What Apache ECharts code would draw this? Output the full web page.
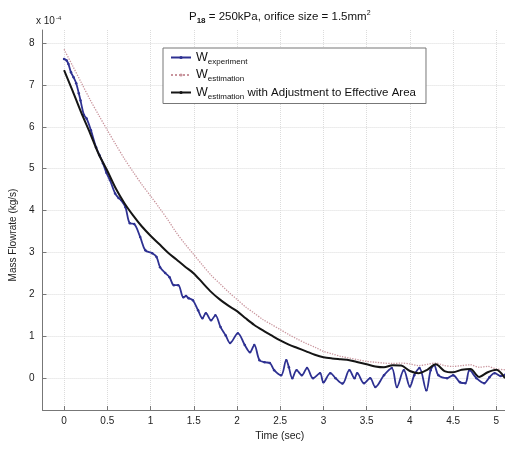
<!DOCTYPE html>
<html>
<head>
<meta charset="utf-8">
<script src="https://cdn.jsdelivr.net/npm/echarts@6/dist/echarts.min.js"></script>
<style>
  html, body { margin: 0; padding: 0; background: #fff; }
  #chart { width: 505px; height: 450px; }
</style>
</head>
<body>
<div id="chart"></div>
<script>
// Axis tick positions (time in s, flow in units of 1e-4 kg/s)
const xTicks = [0, 0.5, 1, 1.5, 2, 2.5, 3, 3.5, 4, 4.5, 5];
const yTicks = [0, 1, 2, 3, 4, 5, 6, 7, 8];

// Measured mass flowrate
const expTime = [0.00, 0.03, 0.05, 0.08, 0.11, 0.14, 0.17, 0.19, 0.23, 0.26, 0.31, 0.37, 0.41, 0.45, 0.49,
  0.53, 0.59, 0.63, 0.66, 0.71, 0.76, 0.81, 0.88, 0.94, 1.02, 1.07, 1.11, 1.17, 1.22, 1.27,
  1.32, 1.38, 1.41, 1.44, 1.49, 1.55, 1.60, 1.64, 1.70, 1.75, 1.81, 1.87, 1.92, 2.01, 2.09,
  2.15, 2.20, 2.26, 2.32, 2.38, 2.43, 2.51, 2.57, 2.60, 2.64, 2.69, 2.75, 2.81, 2.88, 2.96,
  3.00, 3.08, 3.14, 3.22, 3.30, 3.36, 3.39, 3.47, 3.54, 3.60, 3.70, 3.79, 3.85, 3.93, 4.00,
  4.05, 4.11, 4.19, 4.24, 4.28, 4.33, 4.43, 4.50, 4.58, 4.64, 4.69, 4.77, 4.86, 4.92, 4.98,
  5.05, 5.10];
const expFlow = [7.62, 7.58, 7.50, 7.30, 7.18, 7.04, 6.80, 6.63, 6.28, 6.20, 5.92, 5.51, 5.32, 5.13, 4.90,
  4.73, 4.41, 4.30, 4.25, 4.08, 3.70, 3.68, 3.37, 3.05, 2.98, 2.89, 2.65, 2.51, 2.41, 2.22,
  2.22, 1.93, 1.96, 1.91, 1.86, 1.62, 1.43, 1.55, 1.38, 1.50, 1.22, 1.02, 0.84, 1.07, 0.79,
  0.62, 0.79, 0.43, 0.38, 0.36, 0.19, 0.07, 0.43, 0.26, 0.00, 0.19, 0.07, 0.24, 0.00, 0.12,
  -0.10, 0.12, 0.00, -0.13, 0.19, 0.00, 0.12, -0.12, 0.00, -0.21, 0.07, 0.24, -0.21, 0.19, -0.20,
  0.07, 0.24, -0.29, 0.19, 0.31, 0.07, 0.00, 0.07, -0.10, -0.12, 0.19, 0.00, -0.12, 0.02, 0.12,
  0.05, 0.08];

// Sample times for the two model curves
const modelTime = [0.0, 0.1, 0.2, 0.3, 0.4, 0.5, 0.6, 0.7, 0.8, 0.9, 1.0, 1.1, 1.2, 1.3, 1.4, 1.5, 1.6,
  1.7, 1.8, 1.9, 2.0, 2.1, 2.2, 2.3, 2.4, 2.5, 2.6, 2.7, 2.8, 2.9, 3.0, 3.1, 3.2, 3.3, 3.4,
  3.5, 3.6, 3.7, 3.8, 3.9, 4.0, 4.1, 4.2, 4.3, 4.4, 4.5, 4.6, 4.7, 4.8, 4.9, 5.0, 5.1];

// Estimated flowrate
const estFlow = [7.85, 7.45, 7.05, 6.65, 6.28, 5.92, 5.57, 5.23, 4.92, 4.62, 4.35, 4.07, 3.78, 3.47, 3.20, 2.95, 2.70,
  2.46, 2.26, 2.06, 1.88, 1.70, 1.55, 1.40, 1.28, 1.16, 1.04, 0.93, 0.83, 0.74, 0.64, 0.58, 0.52, 0.48, 0.44,
  0.40, 0.38, 0.36, 0.35, 0.36, 0.34, 0.30, 0.33, 0.36, 0.30, 0.28, 0.30, 0.32, 0.26, 0.28, 0.22, 0.20];

// Estimated flowrate with adjustment to effective area
const adjFlow = [7.35, 6.85, 6.33, 5.85, 5.35, 4.95, 4.52, 4.17, 3.88, 3.62, 3.40, 3.20, 3.00, 2.83, 2.66, 2.50, 2.28,
  2.06, 1.88, 1.73, 1.60, 1.43, 1.27, 1.14, 1.02, 0.90, 0.80, 0.72, 0.64, 0.56, 0.50, 0.47, 0.45, 0.43, 0.38,
  0.33, 0.28, 0.26, 0.31, 0.30, 0.17, 0.12, 0.20, 0.33, 0.17, 0.14, 0.20, 0.22, 0.03, 0.14, 0.20, 0.00];

const FONT = '"Liberation Sans", Arial, sans-serif';
const pairs = (t, v) => t.map((x, i) => [x, v[i]]);

const legendText = {
  'W experiment': '{w|W}{s|experiment}',
  'W estimation': '{w|W}{s|estimation}',
  'W estimation adjusted': '{w|W}{s|estimation}{t| with Adjustment to Effective Area}'
};

const chart = echarts.init(document.getElementById('chart'), null, { renderer: 'canvas' });
chart.setOption({
  animation: false,
  backgroundColor: '#fff',
  textStyle: { fontFamily: FONT },
  title: [
    {
      text: '{p|P}{s|18}{p| = 250kPa, orifice size = 1.5mm}{u|2}',
      left: 184, top: 4,
      textStyle: {
        fontFamily: FONT, fontWeight: 'normal',
        rich: {
          p: { fontSize: 11.5, color: '#111', fontFamily: FONT, fontWeight: 'normal' },
          s: { fontSize: 8, color: '#111', fontFamily: FONT, fontWeight: 'bold', padding: [8, 0, 0, 0] },
          u: { fontSize: 7, color: '#111', fontFamily: FONT, fontWeight: 'normal', padding: [0, 0, 7, 0] }
        }
      }
    },
    {
      text: '{a|x 10}{e|-4}',
      left: 31, top: 10,
      textStyle: {
        fontFamily: FONT, fontWeight: 'normal',
        rich: {
          a: { fontSize: 10, color: '#222', fontFamily: FONT, fontWeight: 'normal' },
          e: { fontSize: 6, color: '#222', fontFamily: FONT, fontWeight: 'normal', padding: [0, 0, 7, 1] }
        }
      }
    }
  ],
  legend: {
    orient: 'vertical',
    left: 163, top: 48,
    padding: [3, 10, 3, 7],
    itemGap: 3,
    itemWidth: 20, itemHeight: 4,
    backgroundColor: '#fff',
    borderColor: '#777', borderWidth: 1,
    data: ['W experiment', 'W estimation', 'W estimation adjusted'],
    formatter: name => legendText[name],
    textStyle: {
      fontFamily: FONT,
      rich: {
        w: { fontSize: 12.5, lineHeight: 16, color: '#111', fontFamily: FONT },
        s: { fontSize: 8, color: '#111', fontFamily: FONT, padding: [8, 0, 0, 0] },
        t: { fontSize: 11.5, color: '#111', fontFamily: FONT }
      }
    }
  },
  grid: { left: 33, right: 0, top: 30, bottom: 40, containLabel: false },
  xAxis: {
    type: 'value',
    min: -0.25, max: 5.1,
    name: 'Time (sec)',
    nameLocation: 'middle',
    nameGap: 21,
    nameTextStyle: { fontSize: 10.5, color: '#222', fontFamily: FONT, padding: [0, 0, 0, 12] },
    axisLine: { onZero: false, lineStyle: { color: '#777', width: 1 } },
    axisTick: { show: true, inside: true, length: 4, customValues: xTicks, lineStyle: { color: '#777' } },
    axisLabel: { customValues: xTicks, fontSize: 10, color: '#222', margin: 6, fontFamily: FONT },
    splitLine: { show: true, lineStyle: { color: '#dcdcdc', type: 'dotted', width: 1 } }
  },
  yAxis: {
    type: 'value',
    min: -0.76, max: 8.31,
    name: 'Mass Flowrate (kg/s)',
    nameLocation: 'middle',
    nameGap: 17,
    nameTextStyle: { fontSize: 10, color: '#222', fontFamily: FONT, padding: [0, 30, 0, 0] },
    axisLine: { show: true, onZero: false, lineStyle: { color: '#777', width: 1 } },
    axisTick: { show: true, inside: true, length: 4, customValues: yTicks, lineStyle: { color: '#777' } },
    axisLabel: { customValues: yTicks, fontSize: 10, color: '#222', margin: 8, fontFamily: FONT },
    splitLine: { show: true, lineStyle: { color: '#dcdcdc', type: 'dotted', width: 1 } }
  },
  series: [
    {
      name: 'W experiment',
      type: 'line',
      data: pairs(expTime, expFlow),
      smooth: 0.35,
      showSymbol: true, symbol: 'circle', symbolSize: 2.5,
      itemStyle: { color: '#2e3192' },
      lineStyle: { color: '#2e3192', width: 1.8 },
      z: 3
    },
    {
      name: 'W estimation',
      type: 'line',
      data: pairs(modelTime, estFlow),
      smooth: 0.3,
      showSymbol: false, symbol: 'circle', symbolSize: 2,
      itemStyle: { color: '#c9959d' },
      lineStyle: { color: '#c9959d', width: 1.3, type: 'dotted' },
      z: 2
    },
    {
      name: 'W estimation adjusted',
      type: 'line',
      data: pairs(modelTime, adjFlow),
      smooth: 0.3,
      showSymbol: false, symbol: 'none',
      itemStyle: { color: '#151515' },
      lineStyle: { color: '#151515', width: 2 },
      z: 4
    }
  ]
});
</script>
</body>
</html>
